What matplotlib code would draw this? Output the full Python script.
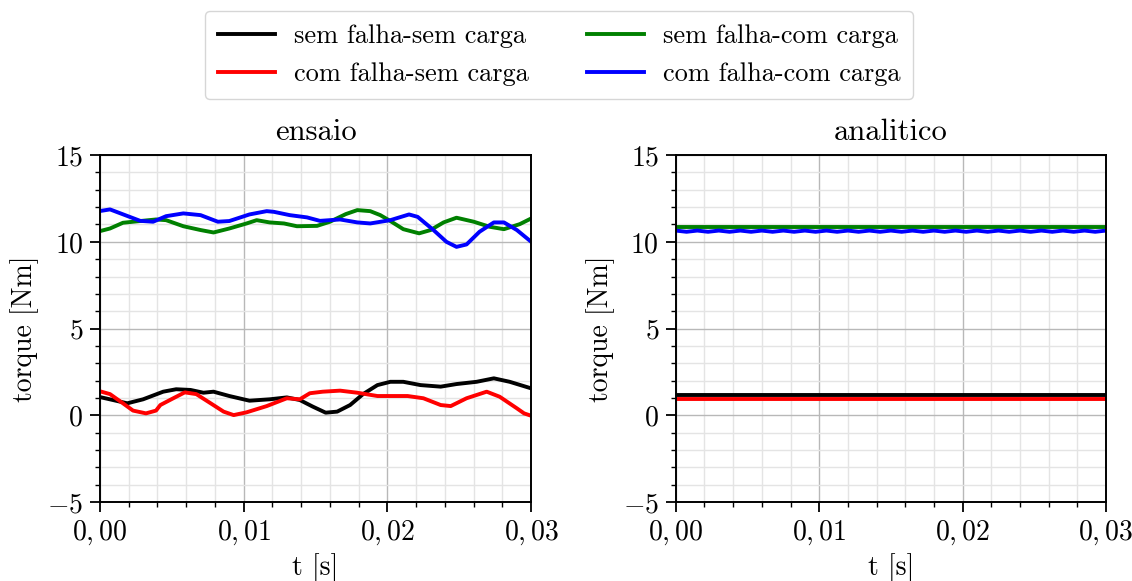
from matplotlib import pyplot as plt
from matplotlib.ticker import MultipleLocator, FuncFormatter

plt.rcParams['font.family'] = 'serif'
plt.rcParams['font.serif'] = ['cmr10']
plt.rcParams['mathtext.fontset'] = 'cm'
plt.rcParams['axes.formatter.use_mathtext'] = True
plt.rcParams['axes.unicode_minus'] = True

# ensaio (measured)
t_ss = [0.0001, 0.0009, 0.0019, 0.0030, 0.0044, 0.0053, 0.0063, 0.0072, 0.0079, 0.0090,
        0.0104, 0.0118, 0.0130, 0.0139, 0.0148, 0.0157, 0.0165, 0.0174, 0.0183, 0.0193,
        0.0202, 0.0211, 0.0223, 0.0237, 0.0248, 0.0262, 0.0274, 0.0285, 0.0300]
sem_falha_sem_carga = [1.03, 0.88, 0.69, 0.92, 1.36, 1.50, 1.46, 1.30, 1.36, 1.11,
                       0.84, 0.92, 1.03, 0.88, 0.50, 0.15, 0.21, 0.59, 1.22, 1.74,
                       1.93, 1.93, 1.74, 1.65, 1.80, 1.93, 2.13, 1.93, 1.55]

t_cs = [0.0001, 0.0007, 0.0016, 0.0023, 0.0032, 0.0039, 0.0042, 0.0051, 0.0059, 0.0067,
        0.0077, 0.0086, 0.0093, 0.0102, 0.0116, 0.0130, 0.0139, 0.0146, 0.0155, 0.0167,
        0.0179, 0.0193, 0.0214, 0.0225, 0.0237, 0.0244, 0.0255, 0.0269, 0.0278, 0.0290,
        0.0295, 0.0300]
com_falha_sem_carga = [1.36, 1.22, 0.69, 0.27, 0.11, 0.27, 0.59, 0.98, 1.32, 1.22,
                       0.69, 0.21, 0.01, 0.17, 0.53, 0.98, 0.92, 1.27, 1.36, 1.42,
                       1.30, 1.11, 1.11, 0.98, 0.59, 0.53, 0.98, 1.36, 1.07, 0.40,
                       0.11, -0.03]

t_sc = [0.0001, 0.0007, 0.0016, 0.0028, 0.0039, 0.0046, 0.0058, 0.0070, 0.0079, 0.0090,
        0.0102, 0.0109, 0.0118, 0.0128, 0.0137, 0.0151, 0.0160, 0.0171, 0.0179, 0.0188,
        0.0195, 0.0202, 0.0211, 0.0222, 0.0230, 0.0239, 0.0248, 0.0260, 0.0271, 0.0281,
        0.0292, 0.0300]
sem_falha_com_carga = [10.64, 10.77, 11.10, 11.20, 11.29, 11.25, 10.90, 10.68, 10.54, 10.77,
                       11.06, 11.25, 11.12, 11.06, 10.90, 10.92, 11.16, 11.60, 11.83, 11.77,
                       11.54, 11.20, 10.73, 10.49, 10.68, 11.12, 11.39, 11.16, 10.87, 10.73,
                       11.02, 11.35]

t_cc = [0.0001, 0.0007, 0.0028, 0.0037, 0.0046, 0.0058, 0.0070, 0.0082, 0.0090, 0.0104,
        0.0116, 0.0121, 0.0132, 0.0144, 0.0153, 0.0167, 0.0179, 0.0188, 0.0202, 0.0215,
        0.0221, 0.0232, 0.0241, 0.0248, 0.0255, 0.0264, 0.0274, 0.0281, 0.0290, 0.0300]
com_falha_com_carga = [11.79, 11.87, 11.21, 11.16, 11.48, 11.64, 11.54, 11.16, 11.20, 11.58,
                       11.77, 11.73, 11.54, 11.41, 11.21, 11.29, 11.12, 11.06, 11.25, 11.58,
                       11.44, 10.68, 10.00, 9.71, 9.85, 10.58, 11.12, 11.12, 10.68, 10.00]

# analitico
t_an = [0.0, 0.03]
an_sem_falha_sem_carga = [1.17, 1.17]
an_com_falha_sem_carga = [0.95, 0.95]
an_sem_falha_com_carga = [10.87, 10.87]
t_an_cc = [0.0, 0.00075, 0.0015, 0.00225, 0.003, 0.00375, 0.0045, 0.00525, 0.006, 0.00675,
           0.0075, 0.00825, 0.009, 0.00975, 0.0105, 0.01125, 0.012, 0.01275, 0.0135, 0.01425,
           0.015, 0.01575, 0.0165, 0.01725, 0.018, 0.01875, 0.0195, 0.02025, 0.021, 0.02175,
           0.0225, 0.02325, 0.024, 0.02475, 0.0255, 0.02625, 0.027, 0.02775, 0.0285, 0.02925,
           0.03]
an_com_falha_com_carga = [10.65, 10.58, 10.65, 10.58, 10.65, 10.58, 10.65, 10.58, 10.65, 10.58,
                          10.65, 10.58, 10.65, 10.58, 10.65, 10.58, 10.65, 10.58, 10.65, 10.58,
                          10.65, 10.58, 10.65, 10.58, 10.65, 10.58, 10.65, 10.58, 10.65, 10.58,
                          10.65, 10.58, 10.65, 10.58, 10.65, 10.58, 10.65, 10.58, 10.65, 10.58,
                          10.65]

labels = ['sem falha-sem carga', 'com falha-sem carga', 'sem falha-com carga', 'com falha-com carga']
colors = ['black', 'red', 'green', 'blue']

fig = plt.figure(figsize=(11.32, 5.81), dpi=100)
ax1 = fig.add_axes([0.0883, 0.136, 0.381, 0.597])
ax2 = fig.add_axes([0.597, 0.136, 0.380, 0.597])

lw = 2.8
h = []
h += ax1.plot(t_ss, sem_falha_sem_carga, color=colors[0], lw=lw, label=labels[0])
h += ax1.plot(t_cs, com_falha_sem_carga, color=colors[1], lw=lw, label=labels[1])
h += ax1.plot(t_sc, sem_falha_com_carga, color=colors[2], lw=lw, label=labels[2])
h += ax1.plot(t_cc, com_falha_com_carga, color=colors[3], lw=lw, label=labels[3])

ax2.plot(t_an, an_sem_falha_sem_carga, color=colors[0], lw=lw)
ax2.plot(t_an, an_com_falha_sem_carga, color=colors[1], lw=lw)
ax2.plot(t_an, an_sem_falha_com_carga, color=colors[2], lw=lw)
ax2.plot(t_an_cc, an_com_falha_com_carga, color=colors[3], lw=lw)

# decimal comma, mathtext puts the small gap after it
fmt = FuncFormatter(lambda v, p: '$%s$' % ('%.2f' % v).replace('.', ','))

for ax, title in [(ax1, 'ensaio'), (ax2, 'analitico')]:
    ax.set_xlim(0, 0.03)
    ax.set_ylim(-5, 15)
    ax.xaxis.set_major_locator(MultipleLocator(0.01))
    ax.xaxis.set_minor_locator(MultipleLocator(0.002))
    ax.yaxis.set_major_locator(MultipleLocator(5))
    ax.yaxis.set_minor_locator(MultipleLocator(1))
    ax.xaxis.set_major_formatter(fmt)
    ax.grid(which='major', color='#b8b8b8', lw=1.0)
    ax.grid(which='minor', color='#e4e4e4', lw=1.0)
    ax.set_axisbelow(True)
    ax.tick_params(which='major', length=7, width=1.3, labelsize=20, pad=5)
    ax.tick_params(which='minor', length=3.5, width=1.0)
    for s in ax.spines.values():
        s.set_linewidth(1.4)
    ax.set_title(title, fontsize=22, pad=11)
    ax.set_xlabel('t [s]', fontsize=20, labelpad=4)
    ax.set_ylabel('torque [Nm]', fontsize=20, labelpad=6)

fig.legend(h, labels, loc='upper center', bbox_to_anchor=(0.494, 0.981), ncol=2,
           fontsize=19, frameon=True, fancybox=True, edgecolor='#cccccc',
           handlelength=2.15, handletextpad=0.72, columnspacing=2.2,
           borderpad=0.5, labelspacing=0.55, borderaxespad=0)

plt.savefig('out.png', dpi=100)
